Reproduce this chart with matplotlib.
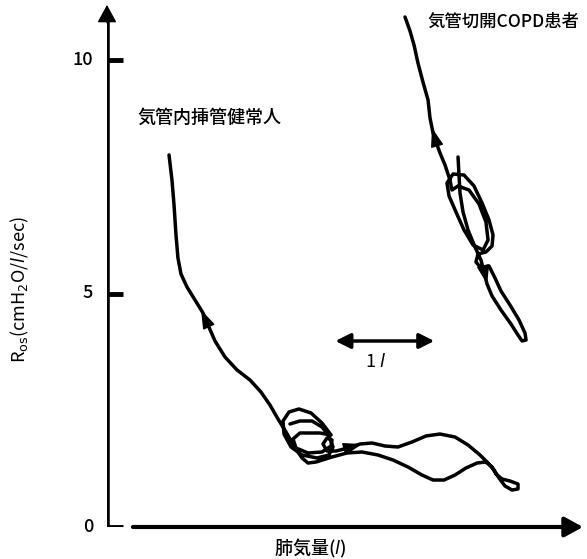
import matplotlib
import matplotlib.pyplot as plt

matplotlib.use("Agg")

plt.rcParams["font.family"] = ["Noto Sans CJK JP", "DejaVu Sans"]

# intubated healthy subject: lung volume (l) vs Ros (cmH2O/l/sec)
healthy_vol = [1.867, 1.969, 2.092, 2.194, 2.265, 2.306, 2.265, 2.143, 1.990,
               1.878, 1.806, 1.796, 1.857, 1.959, 2.082, 2.194, 2.286, 2.173,
               1.969, 1.898, 1.929, 2.051, 2.194, 2.286, 2.296, 2.245, 2.204,
               2.245, 2.337, 2.459, 2.582, 2.704, 2.837, 2.969, 3.112, 3.255,
               3.398, 3.551, 3.684, 3.806, 3.888, 3.949, 4.000, 4.061, 4.133,
               4.194, 4.194, 4.112, 4.031, 3.969, 3.929, 3.867, 3.776, 3.663,
               3.551, 3.439, 3.327, 3.214, 3.071, 2.918, 2.765, 2.602, 2.449,
               2.296, 2.133, 2.051, 1.990, 1.908, 1.827, 1.745, 1.663, 1.571,
               1.459, 1.327, 1.204, 1.102, 1.031, 0.980, 0.898, 0.816, 0.755,
               0.724, 0.704, 0.684, 0.663, 0.633]
healthy_ros = [2.206, 2.270, 2.270, 2.141, 1.949, 1.713, 1.542, 1.478, 1.542,
               1.713, 1.991, 2.270, 2.463, 2.527, 2.441, 2.227, 1.970, 2.013,
               2.013, 1.884, 1.692, 1.585, 1.606, 1.734, 1.863, 1.906, 1.777,
               1.627, 1.627, 1.692, 1.777, 1.799, 1.734, 1.713, 1.820, 1.949,
               1.991, 1.927, 1.756, 1.542, 1.370, 1.221, 1.049, 0.878, 0.792,
               0.814, 0.921, 0.985, 1.028, 1.135, 1.285, 1.392, 1.370, 1.263,
               1.113, 1.006, 1.006, 1.113, 1.285, 1.435, 1.542, 1.606, 1.585,
               1.499, 1.392, 1.370, 1.478, 1.734, 2.034, 2.313, 2.612, 2.891,
               3.148, 3.362, 3.640, 3.983, 4.325, 4.582, 4.861, 5.139, 5.418,
               5.760, 6.253, 6.895, 7.430, 7.966]

# tracheostomised COPD patient
copd_vol = [3.582, 3.592, 3.602, 3.633, 3.684, 3.755, 3.816, 3.847, 3.878,
            3.929, 4.020, 4.122, 4.194, 4.235, 4.276, 4.265, 4.204, 4.112,
            4.020, 3.959, 3.898, 3.816, 3.765, 3.786, 3.867, 3.929, 3.939,
            3.898, 3.827, 3.745, 3.643, 3.531, 3.469, 3.490, 3.561, 3.643,
            3.735, 3.837, 3.888, 3.867, 3.796, 3.694, 3.582, 3.520, 3.500,
            3.449, 3.398, 3.357, 3.327, 3.296, 3.276, 3.224, 3.173, 3.133,
            3.092, 3.041]
copd_ros = [7.923, 7.537, 7.152, 6.745, 6.360, 5.996, 5.717, 5.460, 5.203,
            4.946, 4.647, 4.347, 4.111, 3.983, 4.004, 4.154, 4.433, 4.754,
            5.054, 5.332, 5.589, 5.546, 5.675, 5.846, 5.889, 6.017, 6.253,
            6.574, 6.938, 7.302, 7.537, 7.559, 7.366, 7.088, 6.745, 6.360,
            6.039, 5.931, 6.146, 6.531, 6.916, 7.216, 7.302, 7.216, 7.430,
            7.752, 8.009, 8.244, 8.437, 8.758, 9.143, 9.529, 9.936, 10.321,
            10.621, 10.921]

# direction arrows on the traces: (tail, tip)
direction_arrows = [((1.031, 4.325), (0.960, 4.650)),
                    ((2.459, 1.692), (2.602, 1.777)),
                    ((3.357, 8.244), (3.316, 8.544)),
                    ((3.847, 5.503), (3.878, 5.203))]

y_ticks = [0, 5, 10]
y_tick_labels = ["0", "5", "10"]


def draw_axes(ax):
    """
    Description: Draw the hand-style axes with arrow heads and ticks.
    """
    ax.plot([0, 0], [-0.03, 11.0], color="k", lw=4, solid_capstyle="butt")
    ax.plot([0, 0.16], [0, 0], color="k", lw=3.5, solid_capstyle="butt")
    ax.annotate("", xy=(0, 11.18), xytext=(0, 10.8),
                arrowprops=dict(arrowstyle="-|>,head_length=0.55,head_width=0.3",
                                mutation_scale=20, lw=1, color="k",
                                shrinkA=0, shrinkB=0))
    ax.annotate("", xy=(4.857, 0), xytext=(0.265, 0),
                arrowprops=dict(arrowstyle="-|>,head_length=0.55,head_width=0.3",
                                mutation_scale=20, lw=3, color="k",
                                shrinkA=0, shrinkB=0))
    for t, lab in zip(y_ticks, y_tick_labels):
        if t > 0:
            ax.plot([0, 0.16], [t, t], color="k", lw=3.5, solid_capstyle="butt")
        ax.text(-0.14, t, lab, ha="right", va="center", fontsize=13,
                fontweight="medium")


def main():
    """
    Description: Ros vs lung volume for an intubated healthy subject and a
    tracheostomised COPD patient.
    """
    fig = plt.figure(figsize=(5.87, 5.59), dpi=100)
    ax = fig.add_axes([107 / 587, 32 / 559, 480 / 587, 527 / 559])
    ax.set_xlim(0, 480 / 98)
    ax.set_ylim(0, 527 / 46.7)
    ax.axis("off")

    draw_axes(ax)

    line_kw = dict(color="k", lw=2.5, solid_capstyle="round",
                   solid_joinstyle="round")
    ax.plot(healthy_vol, healthy_ros, **line_kw)
    ax.plot(copd_vol, copd_ros, **line_kw)

    for tail, tip in direction_arrows:
        ax.annotate("", xy=tip, xytext=tail,
                    arrowprops=dict(arrowstyle="-|>,head_length=0.65,head_width=0.22",
                                    mutation_scale=18, lw=1, color="k",
                                    shrinkA=0, shrinkB=0))

    # 1 litre scale bar
    ax.annotate("", xy=(2.33, 3.983), xytext=(3.34, 3.983),
                arrowprops=dict(arrowstyle="<|-|>,head_length=0.5,head_width=0.25",
                                mutation_scale=18, lw=2.5, color="k",
                                shrinkA=0, shrinkB=0))
    ax.text(2.735, 3.533, "1 $l$", ha="center", va="center", fontsize=13)

    ax.text(0.306, 8.758, "気管内挿管健常人", ha="left", va="center",
            fontsize=13, fontweight="medium")
    ax.text(3.27, 10.81, "気管切開COPD患者", ha="left", va="center",
            fontsize=12.5, fontweight="medium")

    ax.text(2.071, -0.45, "肺気量($l$)", ha="center", va="center", fontsize=13,
            fontweight="medium", clip_on=False)
    ax.text(-0.888, 5.075, r"R$_{\mathrm{os}}$(cmH$_2$O/$l$/sec)", rotation=90,
            ha="center", va="center", fontsize=13, clip_on=False)

    fig.savefig("out.png", dpi=100)
    return 0


if __name__ == "__main__":
    main()
